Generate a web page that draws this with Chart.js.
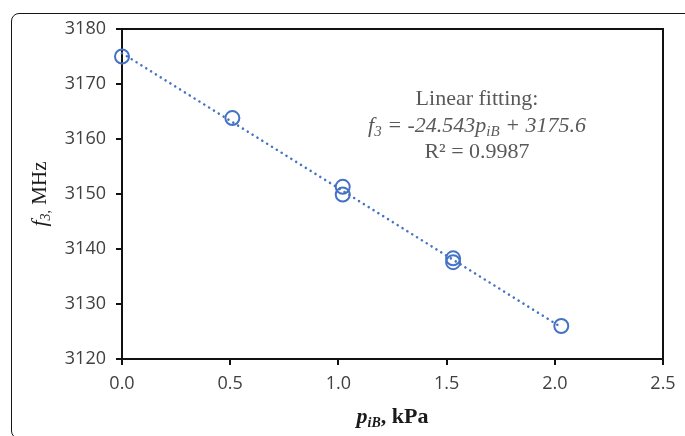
<!DOCTYPE html>
<html>
<head>
<meta charset="utf-8">
<script src="https://cdn.jsdelivr.net/npm/chart.js@4"></script>
<style>
  html, body { margin: 0; padding: 0; background: #fff; }
  #wrap { position: relative; width: 685px; height: 436px; overflow: hidden; }
  #frame { position: absolute; left: 11px; top: 13px; width: 700px; height: 424px;
           border: 1.5px solid #151515; border-radius: 8px; pointer-events: none; }
  canvas { position: absolute; left: 0; top: 0; }
</style>
</head>
<body>
<div id="wrap">
  <canvas id="freqChart" width="685" height="436"></canvas>
  <div id="frame"></div>
</div>
<script>
// measured f3 vs partial pressure of iB
const pressure = [0, 0.51, 1.02, 1.02, 1.53, 1.53, 2.03];
const freq = [3175.0, 3163.8, 3151.3, 3149.9, 3138.3, 3137.6, 3126.0];

// linear fit reported on the plot
const slope = -24.543;
const intercept = 3175.6;
const rSquared = 0.9987;
const fitRange = [0, 2.03];

const xTicks = [0, 0.5, 1.0, 1.5, 2.0, 2.5];
const yTicks = [3120, 3130, 3140, 3150, 3160, 3170, 3180];

const blue = '#4472C4';
const serif = '"Liberation Serif", "Times New Roman", serif';
const sans = '"Open Sans", "Noto Sans", sans-serif';

const points = pressure.map((p, i) => ({ x: p, y: freq[i] }));
const fitLine = fitRange.map(p => ({ x: p, y: slope * p + intercept }));

// draw a row of text pieces (fonts/subscripts) centred on x
function drawRuns(ctx, runs, x, y) {
  let total = 0;
  runs.forEach(r => { ctx.font = r.font; total += ctx.measureText(r.t).width; });
  let cx = x - total / 2;
  runs.forEach(r => {
    ctx.font = r.font;
    ctx.fillText(r.t, cx, y + (r.dy || 0));
    cx += ctx.measureText(r.t).width;
  });
}

const decorations = {
  id: 'decorations',
  afterDraw(chart) {
    const { ctx, chartArea: a } = chart;
    ctx.save();
    // top and right sides of the plot box
    ctx.strokeStyle = '#111';
    ctx.lineWidth = 2;
    ctx.beginPath();
    ctx.moveTo(a.left, a.top);
    ctx.lineTo(a.right, a.top);
    ctx.lineTo(a.right, a.bottom);
    ctx.stroke();

    ctx.textBaseline = 'alphabetic';
    ctx.fillStyle = '#1a1a1a';
    // x axis title
    drawRuns(ctx, [
      { t: 'p', font: `bold italic 22px ${serif}` },
      { t: 'iB', font: `bold italic 14px ${serif}`, dy: 4 },
      { t: ', kPa', font: `bold 22px ${serif}` }
    ], (a.left + a.right) / 2, 423);

    // y axis title
    ctx.save();
    ctx.translate(46, (a.top + a.bottom) / 2);
    ctx.rotate(-Math.PI / 2);
    drawRuns(ctx, [
      { t: 'f', font: `italic 22px ${serif}` },
      { t: '3,', font: `italic 14px ${serif}`, dy: 4 },
      { t: ' MHz', font: `21px ${serif}` }
    ], 0, 0);
    ctx.restore();

    // fit annotation
    ctx.fillStyle = '#595959';
    const cx = 477;
    drawRuns(ctx, [{ t: 'Linear fitting:', font: `22px ${serif}` }], cx, 105);
    drawRuns(ctx, [
      { t: 'f', font: `italic 22px ${serif}` },
      { t: '3', font: `italic 15px ${serif}`, dy: 4 },
      { t: ' = ' + slope.toFixed(3), font: `italic 22px ${serif}` },
      { t: 'p', font: `italic 22px ${serif}` },
      { t: 'iB', font: `italic 15px ${serif}`, dy: 4 },
      { t: ' + ' + intercept.toFixed(1), font: `italic 22px ${serif}` }
    ], cx, 132);
    drawRuns(ctx, [{ t: 'R² = ' + rSquared.toFixed(4), font: `22px ${serif}` }], cx, 158);
    ctx.restore();
  }
};

new Chart(document.getElementById('freqChart'), {
  type: 'scatter',
  data: {
    datasets: [
      {
        label: 'fit',
        type: 'line',
        data: fitLine,
        borderColor: blue,
        borderWidth: 2.5,
        borderDash: [0.1, 5.6],
        borderCapStyle: 'round',
        pointRadius: 0,
        fill: false,
        clip: false
      },
      {
        label: 'f3',
        data: points,
        borderColor: blue,
        backgroundColor: 'rgba(0,0,0,0)',
        borderWidth: 2,
        pointRadius: 7,
        pointHoverRadius: 7,
        clip: false
      }
    ]
  },
  plugins: [decorations],
  options: {
    responsive: false,
    animation: false,
    events: [],
    layout: { padding: { left: 0, top: 29, right: 22, bottom: 0 } },
    plugins: { legend: { display: false }, tooltip: { enabled: false } },
    scales: {
      x: {
        type: 'linear',
        min: 0, max: 2.5,
        afterFit: s => { s.height = 77; },
        afterBuildTicks: s => { s.ticks = xTicks.map(v => ({ value: v })); },
        grid: { drawOnChartArea: false, drawTicks: true, tickLength: 6, color: '#111', lineWidth: 2 },
        border: { color: '#111', width: 2 },
        ticks: {
          padding: 8,
          color: '#404040',
          font: { family: sans, size: 18 },
          callback: v => v.toFixed(1)
        }
      },
      y: {
        type: 'linear',
        min: 3120, max: 3180,
        afterFit: s => { s.width = 122; },
        afterBuildTicks: s => { s.ticks = yTicks.map(v => ({ value: v })); },
        grid: { drawOnChartArea: false, drawTicks: true, tickLength: 6, color: '#111', lineWidth: 2 },
        border: { color: '#111', width: 2 },
        ticks: {
          padding: 10,
          color: '#404040',
          font: { family: sans, size: 18 },
          callback: v => String(v)
        }
      }
    }
  }
});
</script>
</body>
</html>
